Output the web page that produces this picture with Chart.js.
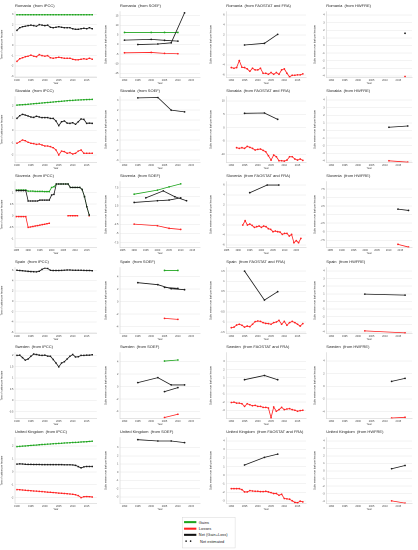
<!DOCTYPE html>
<html>
<head>
<meta charset="utf-8">
<script src="https://cdn.jsdelivr.net/npm/chart.js@4.4.0/dist/chart.umd.min.js"></script>
<style>
html,body{margin:0;padding:0;background:#fff;}
#wrap{position:relative;width:418px;height:550px;overflow:hidden;background:#fff;}
#wrap canvas{position:absolute;}
#legend{position:absolute;left:182px;top:516.5px;width:130px;height:76px;transform:scale(0.41);transform-origin:0 0;border:1.5px solid #cfcfcf;background:#fff;font-family:"Liberation Sans",Arial,sans-serif;font-size:9.6px;color:#222;box-sizing:border-box;padding-top:4px;}
.lrow{height:15.5px;display:flex;align-items:center;padding-left:4px;}
.sw{width:30px;height:5px;margin-right:6px;}
.dots{width:30px;margin-right:6px;display:flex;gap:7px;padding-left:3px;}
.dots i{display:block;width:4px;height:4px;border-radius:50%;background:#111;}
</style>
</head>
<body>
<div id="wrap">
  <div id="legend">
    <div class="lrow"><div class="sw" style="background:#1ea51e"></div>Gains</div>
    <div class="lrow"><div class="sw" style="background:#ff2020"></div>Losses</div>
    <div class="lrow"><div class="sw" style="background:#111"></div>Net (Gain+Loss)</div>
    <div class="lrow"><div class="dots"><i></i><i></i></div>Net estimated</div>
  </div>
</div>
<script>
// ---------------- DATA ----------------
const yrsIpcc = [1990,1991,1992,1993,1994,1995,1996,1997,1998,1999,2000,2001,2002,2003,2004,2005,2006,2007,2008,2009,2010,2011,2012,2013,2014,2015,2016,2017];
const yrsIpccSI = [1985,1986,1987,1988,1989,1990,1991,1992,1993,1994,1995,1996,1997,1998,1999,2000,2001,2002,2003,2004,2005,2006,2007,2008,2009,2010,2011,2012,2013,2014,2015,2016];
const yrsFao = [1990,1991,1992,1993,1994,1995,1996,1997,1998,1999,2000,2001,2002,2003,2004,2005,2006,2007,2008,2009,2010,2011,2012,2013,2014,2015,2016,2017];
const yrsFao92 = [1992,1993,1994,1995,1996,1997,1998,1999,2000,2001,2002,2003,2004,2005,2006,2007,2008,2009,2010,2011,2012,2013,2014,2015,2016,2017];
const yrsFra = [1995,2002.5,2007.5];
const yrsSoefStock = [1990,2000,2005,2010];
const yrsSoefPeriod = [1995,2002.5,2007.5,2012.5];
const yrsSoefLate = [2005,2010];
const yrsHwRO = [2017.5];
const yrsHwSK = [2011.5,2018.5];
const yrsHwSI = [2014,2018.5];
const yrsHwES = [2002.5,2017.5];
const yrsHw = [2012.5,2017.5];

const xTicks = [1990,1995,2000,2005,2010,2015];
const xTicksSI = [1985,1990,1995,2000,2005,2010,2015];

// Romania
const roIpccGain = [2.95,2.95,2.95,2.95,2.95,2.95,2.95,2.95,2.95,2.95,2.95,2.95,2.95,2.95,2.95,2.95,2.95,2.95,2.95,2.95,2.95,2.95,2.95,2.95,2.95,2.95,2.95,2.95];
const roIpccNet = [1.45,1.7,1.8,1.85,1.9,1.95,1.9,1.85,2.0,1.95,1.9,1.95,1.75,1.7,1.75,1.8,1.75,1.7,1.7,1.7,1.6,1.55,1.55,1.6,1.65,1.6,1.7,1.6];
const roIpccLoss = [-1.55,-1.3,-1.2,-1.1,-1.05,-0.95,-1.05,-1.1,-0.9,-1.0,-1.05,-1.0,-1.2,-1.25,-1.2,-1.15,-1.2,-1.25,-1.25,-1.25,-1.35,-1.4,-1.4,-1.35,-1.3,-1.35,-1.25,-1.35];
const roSoefGain = [6.3,6.3,6.3,6.3];
const roSoefNetStock = [2.3,2.7,2.2,1.8];
const roSoefNetPeriod = [0.0,0.3,0.9,16.5];
const roSoefLoss = [-4.3,-4.1,-4.6,-4.8];
const roFaoNet = [0.0,0.33,2.13];
const roFaoLoss = [-4.53,-4.67,-4.53,-3.13,-4.47,-4.53,-4.8,-5.27,-4.67,-5.0,-5.0,-4.67,-5.67,-5.67,-5.87,-5.53,-5.87,-5.53,-5.87,-5.0,-4.8,-5.67,-6.4,-6.07,-6.07,-6.0,-6.0,-5.8];
const roHwNet = [1.6];
const roHwLoss = [-4.08];

// Slovakia
const skIpccGain = [2.05,2.07,2.08,2.1,2.12,2.14,2.16,2.18,2.2,2.22,2.24,2.26,2.28,2.3,2.32,2.34,2.36,2.38,2.4,2.42,2.43,2.45,2.46,2.47,2.48,2.49,2.5,2.51];
const skIpccNet = [0.97,1.19,1.3,1.24,1.16,1.08,1.05,1.14,1.08,1.03,1.03,1.03,0.97,0.97,0.76,0.38,0.7,0.76,0.59,0.57,0.62,0.49,0.7,0.92,0.89,0.57,0.59,0.57];
const skIpccLoss = [-1.05,-0.92,-0.78,-0.84,-0.97,-1.05,-1.08,-1.14,-1.11,-1.19,-1.27,-1.27,-1.32,-1.41,-1.59,-2.0,-1.68,-1.73,-1.86,-1.81,-1.92,-1.86,-1.68,-1.59,-1.86,-1.86,-1.86,-1.86];
const skSoefNetPeriod = [3.23,3.27,2.0,1.83];
const skFaoNet = [5.375,5.5,3.125];
const skFaoLoss = [-7.5,-7.75,-7.5,-7.75,-7.0,-7.375,-7.75,-8.375,-8.125,-8.0,-8.5,-9.0,-10.5,-12.125,-10.25,-10.875,-12.375,-12.375,-12.5,-12.125,-10.875,-10.875,-11.75,-12.125,-11.75,-12.25];
const skHwNet = [0.42,0.59];
const skHwLoss = [-3.99,-4.17];

// Slovenia
const siIpccGain = [1.12,1.12,1.12,1.12,1.12,1.07,1.07,1.07,1.06,1.06,1.06,1.06,1.05,1.05,1.05,1.23,1.26,1.38,1.38,1.38,1.38,1.38,1.38,1.23,1.23,1.23,1.23,1.23,1.14,0.83,0.39,0.03];
const siIpccNet = [1.09,1.09,1.09,1.09,1.09,0.64,0.64,0.64,0.64,0.64,0.68,0.68,0.68,0.68,0.68,0.9,0.93,1.38,1.38,1.38,1.38,1.38,1.38,1.23,1.23,1.23,1.23,1.23,1.14,0.83,0.39,0.03];
const siIpccLoss = [-0.04,-0.04,-0.04,-0.04,-0.04,-0.51,-0.49,-0.47,-0.45,-0.43,-0.41,-0.39,-0.37,-0.35,-0.33,null,null,null,null,null,null,null,0,0,0,0,0,null,null,null,null,0];
const siSoefGain = [5.7,6.8,7.7,8.5];
const siSoefNetStock = [3.45,3.9,4.1,4.7];
const siSoefNetPeriod = [4.7,6.6,5.0,3.9];
const siSoefLoss = [-2.45,-2.9,-3.6,-3.9];
const siFaoNet = [4.47,6.0,6.0];
const siFaoLoss = [-2.0,-1.13,-2.0,-1.8,-2.07,-2.47,-2.33,-2.2,-2.47,-2.2,-2.33,-2.73,-2.87,-3.33,-3.2,-3.33,-3.4,-3.87,-3.67,-3.67,-4.2,-3.87,-5.53,-5.13,-5.53,-4.67];
const siHwNet = [1.65,1.26];
const siHwLoss = [-8.7,-9.5];

// Spain
const esIpccNet = [6.0,5.95,5.9,5.85,5.8,5.75,5.72,5.69,5.82,6.18,6.43,6.37,6.0,5.95,5.95,5.95,5.98,6.02,6.05,6.05,6.02,6.0,6.0,6.0,5.98,5.95,5.95,5.92];
const esSoefGain = [5.0,5.0];
const esSoefLoss = [-2.67,-2.83];
const esSoefNetPeriod = [3.04,2.72,2.08,1.92];
const esSoefNetStock = [2.29,2.13];
const esFaoNet = [1.5,0.08,0.49];
const esFaoLoss = [-1.28,-1.25,-1.15,-1.11,-1.16,-1.25,-1.2,-1.23,-1.11,-0.98,-0.95,-0.97,-1.03,-1.07,-1.08,-1.11,-1.03,-1.0,-0.92,-1.11,-0.97,-1.16,-1.03,-0.97,-1.03,-1.11,-1.2,-1.08];
const esHwNet = [0.96,0.83];
const esHwLoss = [-3.87,-4.13];

// Sweden
const seIpccNet = [2.0,2.01,1.9,1.79,1.84,1.96,2.06,2.04,2.01,2.0,2.01,1.97,1.96,1.82,1.66,1.49,1.66,1.72,1.84,1.96,2.04,1.93,1.94,2.0,2.0,2.01,2.01,2.03];
const seSoefGain = [4.1,4.27];
const seSoefLoss = [-4.96,-4.43];
const seSoefNetPeriod = [0.64,1.44,0.27,0.27];
const seSoefNetStock = [-0.8,-0.16];
const seFaoNet = [0.76,1.28,0.76];
const seFaoLoss = [-2.04,-2.0,-2.12,-2.12,-2.2,-2.52,-2.2,-2.32,-2.44,-2.4,-2.52,-2.52,-2.64,-2.64,-2.72,-3.92,-2.6,-3.12,-2.92,-2.64,-2.92,-2.84,-2.8,-2.92,-3.0,-3.12,-3.04,-3.0];
const seHwNet = [0.78,1.25];
const seHwLoss = [-4.99,-4.88];

// United Kingdom
const ukIpccGain = [1.95,1.97,1.99,2.0,2.02,2.04,2.06,2.07,2.09,2.11,2.12,2.14,2.15,2.17,2.18,2.2,2.21,2.23,2.24,2.25,2.27,2.28,2.29,2.31,2.32,2.33,2.35,2.37];
const ukIpccNet = [0.59,0.61,0.6,0.58,0.57,0.57,0.56,0.56,0.56,0.55,0.55,0.55,0.55,0.55,0.55,0.55,0.55,0.54,0.54,0.54,0.53,0.5,0.4,0.3,0.38,0.41,0.41,0.41];
const ukIpccLoss = [-1.38,-1.39,-1.41,-1.43,-1.45,-1.47,-1.49,-1.5,-1.52,-1.54,-1.56,-1.58,-1.59,-1.61,-1.63,-1.65,-1.66,-1.68,-1.7,-1.72,-1.74,-1.78,-1.85,-2.0,-1.93,-1.92,-1.93,-1.95];
const ukSoefNetPeriod = [3.96,3.8,3.8,3.6];
const ukFaoNet = [1.19,2.08,2.46];
const ukFaoLoss = [-1.58,-1.58,-1.58,-1.58,-1.69,-1.96,-1.96,-1.81,-1.85,-1.88,-1.88,-1.92,-1.92,-1.88,-1.96,-2.04,-2.15,-2.15,-2.35,-2.23,-2.73,-2.77,-2.81,-3.0,-3.19,-3.23,-3.04,-3.12];
const ukHwNet = [0.3,0.74];
const ukHwLoss = [-3.96,-4.26];

// y tick labels
const ytRoIpcc = [3,2,1,0,-1,-2,-3];
const ytRoSoef = [15,10,5,0,-5,-10,-15];
const ytRoFao = [6,4,2,0,-2,-4,-6];
const ytHw4 = [4,3,2,1,0,-1,-2,-3,-4];
const ytSkIpcc = [2,1,0,-1,-2];
const ytSkSoef = [3,2,1,0,-1,-2,-3];
const ytSkFao = [10,5,0,-5,-10];
const ytSiIpcc = [1,0.5,0,-0.5,-1];
const ytSiSoef = [7.5,5,2.5,0,-2.5,-5,-7.5];
const ytSiFao = [6,4,2,0,-2,-4,-6];
const ytSiHw = [7.5,5,2.5,0,-2.5,-5,-7.5];
const ytEsIpcc = [6,4,2,0,-2,-4,-6];
const ytEsSoef = [4,2,0,-2,-4];
const ytEsFao = [1.5,1,0.5,0,-0.5,-1,-1.5];
const ytSeIpcc = [2,1.5,1,0.5,0,-0.5];
const ytSeSoef = [4,2,0,-2,-4];
const ytSeFao = [3,2,1,0,-1,-2,-3];
const ytSeHw = [4,2,0,-2,-4];
const ytUkIpcc = [2,1,0,-1,-2];
const ytUkSoef = [3,2,1,0,-1,-2,-3];
const ytUkFao = [4,3,2,1,0,-1,-2,-3];

// ---------------- DRAWING ----------------
const G = '#1ea51e', R = '#ff2020', K = '#1a1a1a';
const FONT = '"Liberation Sans", Arial, sans-serif';
const COLS = [
  {left:0,   w:104, yw:15,   rp:7.3, xmin:1989.3, xmax:2018.6, ytitle:'Tons of carbon per hectare'},
  {left:104, w:105, yw:16,   rp:9,   xmin:1988.3, xmax:2018.3, ytitle:'Cubic meters over bark per hectare'},
  {left:209, w:104, yw:17.3, rp:7,   xmin:1988.1, xmax:2018.2, ytitle:'Cubic meters over bark per hectare'},
  {left:313, w:105, yw:13.3, rp:6,   xmin:1988.1, xmax:2020.1, ytitle:'Cubic meters over bark per hectare'}
];
const ROWTOP = r => Math.round(r * 85.2);

function ser(xs, ys, color, square) { return {xs, ys, color, square: !!square}; }

const PANELS = [
  {r:0,c:0,t:'Romania  (from IPCC)', yt:ytRoIpcc, ymin:-3.1, ymax:3.25, s:[ser(yrsIpcc,roIpccNet,K,1),ser(yrsIpcc,roIpccGain,G,1),ser(yrsIpcc,roIpccLoss,R,1)]},
  {r:0,c:1,t:'Romania  (from SOEF)', yt:ytRoSoef, ymin:-17.1, ymax:17.1, s:[ser(yrsSoefPeriod,roSoefNetPeriod,K),ser(yrsSoefStock,roSoefNetStock,K),ser(yrsSoefStock,roSoefGain,G),ser(yrsSoefStock,roSoefLoss,R)]},
  {r:0,c:2,t:'Romania  (from FAOSTAT and FRA)', yt:ytRoFao, ymin:-6.5, ymax:6.67, s:[ser(yrsFra,roFaoNet,K),ser(yrsFao,roFaoLoss,R)]},
  {r:0,c:3,t:'Romania  (from HWFRE)', yt:ytHw4, ymin:-4.2, ymax:4.44, s:[ser(yrsHwRO,roHwNet,K),ser(yrsHwRO,roHwLoss,R)]},

  {r:1,c:0,t:'Slovakia  (from IPCC)', yt:ytSkIpcc, ymin:-2.6, ymax:2.73, s:[ser(yrsIpcc,skIpccNet,K,1),ser(yrsIpcc,skIpccGain,G,1),ser(yrsIpcc,skIpccLoss,R,1)]},
  {r:1,c:1,t:'Slovakia  (from SOEF)', yt:ytSkSoef, ymin:-3.23, ymax:3.35, s:[ser(yrsSoefPeriod,skSoefNetPeriod,K)]},
  {r:1,c:2,t:'Slovakia  (from FAOSTAT and FRA)', yt:ytSkFao, ymin:-13, ymax:11.6, s:[ser(yrsFra,skFaoNet,K),ser(yrsFao92,skFaoLoss,R)]},
  {r:1,c:3,t:'Slovakia  (from HWFRE)', yt:ytHw4, ymin:-4.2, ymax:4.44, s:[ser(yrsHwSK,skHwNet,K),ser(yrsHwSK,skHwLoss,R)]},

  {r:2,c:0,t:'Slovenia  (from IPCC)', yt:ytSiIpcc, ymin:-1.38, ymax:1.48, xmin:1984.4, xmax:2019.2, xt:xTicksSI, s:[ser(yrsIpccSI,siIpccNet,K,1),ser(yrsIpccSI,siIpccGain,G,1),ser(yrsIpccSI,siIpccLoss,R,1)]},
  {r:2,c:1,t:'Slovenia  (from SOEF)', yt:ytSiSoef, ymin:-8.8, ymax:9.1, xmin:1983.9, xmax:2018.3, xt:xTicksSI, s:[ser(yrsSoefPeriod,siSoefNetPeriod,K),ser(yrsSoefStock,siSoefNetStock,K),ser(yrsSoefStock,siSoefGain,G),ser(yrsSoefStock,siSoefLoss,R)]},
  {r:2,c:2,t:'Slovenia  (from FAOSTAT and FRA)', yt:ytSiFao, ymin:-6.47, ymax:6.67, xmin:1984.9, xmax:2019.2, xt:xTicksSI, s:[ser(yrsFra,siFaoNet,K),ser(yrsFao92,siFaoLoss,R)]},
  {r:2,c:3,t:'Slovenia  (from HWFRE)', yt:ytSiHw, ymin:-9.6, ymax:9.7, xmin:1983.3, xmax:2020, xt:xTicksSI, s:[ser(yrsHwSI,siHwNet,K),ser(yrsHwSI,siHwLoss,R)]},

  {r:3,c:0,t:'Spain  (from IPCC)', yt:ytEsIpcc, ymin:-6.2, ymax:6.5, s:[ser(yrsIpcc,esIpccNet,K,1)]},
  {r:3,c:1,t:'Spain  (from SOEF)', yt:ytEsSoef, ymin:-5.07, ymax:5.44, s:[ser(yrsSoefPeriod,esSoefNetPeriod,K),ser(yrsSoefLate,esSoefNetStock,K),ser(yrsSoefLate,esSoefGain,G),ser(yrsSoefLate,esSoefLoss,R)]},
  {r:3,c:2,t:'Spain  (from FAOSTAT and FRA)', yt:ytEsFao, ymin:-1.56, ymax:1.67, s:[ser(yrsFra,esFaoNet,K),ser(yrsFao,esFaoLoss,R)]},
  {r:3,c:3,t:'Spain  (from HWFRE)', yt:ytHw4, ymin:-4.2, ymax:4.43, s:[ser(yrsHwES,esHwNet,K),ser(yrsHwES,esHwLoss,R)]},

  {r:4,c:0,t:'Sweden  (from IPCC)', yt:ytSeIpcc, ymin:-0.8, ymax:2.12, s:[ser(yrsIpcc,seIpccNet,K,1)]},
  {r:4,c:1,t:'Sweden  (from SOEF)', yt:ytSeSoef, ymin:-5.1, ymax:5.44, s:[ser(yrsSoefPeriod,seSoefNetPeriod,K),ser(yrsSoefLate,seSoefNetStock,K),ser(yrsSoefLate,seSoefGain,G),ser(yrsSoefLate,seSoefLoss,R)]},
  {r:4,c:2,t:'Sweden  (from FAOSTAT and FRA)', yt:ytSeFao, ymin:-4.0, ymax:4.08, s:[ser(yrsFra,seFaoNet,K),ser(yrsFao,seFaoLoss,R)]},
  {r:4,c:3,t:'Sweden  (from HWFRE)', yt:ytSeHw, ymin:-5.05, ymax:5.3, s:[ser(yrsHw,seHwNet,K),ser(yrsHw,seHwLoss,R)]},

  {r:5,c:0,t:'United Kingdom  (from IPCC)', yt:ytUkIpcc, ymin:-2.45, ymax:2.64, s:[ser(yrsIpcc,ukIpccNet,K,1),ser(yrsIpcc,ukIpccGain,G,1),ser(yrsIpcc,ukIpccLoss,R,1)]},
  {r:5,c:1,t:'United Kingdom  (from SOEF)', yt:ytUkSoef, ymin:-3.8, ymax:4.2, s:[ser(yrsSoefPeriod,ukSoefNetPeriod,K)]},
  {r:5,c:2,t:'United Kingdom  (from FAOSTAT and FRA)', yt:ytUkFao, ymin:-3.3, ymax:4.38, s:[ser(yrsFra,ukFaoNet,K),ser(yrsFao,ukFaoLoss,R)]},
  {r:5,c:3,t:'United Kingdom  (from HWFRE)', yt:ytHw4, ymin:-4.3, ymax:4.43, s:[ser(yrsHw,ukHwNet,K),ser(yrsHw,ukHwLoss,R)]}
];

const wrap = document.getElementById('wrap');

PANELS.forEach(p => {
  const col = COLS[p.c];
  const cv = document.createElement('canvas');
  const H = 85;
  cv.width = col.w; cv.height = H;
  cv.style.left = col.left + 'px';
  cv.style.top = ROWTOP(p.r) + 'px';
  cv.style.width = col.w + 'px';
  cv.style.height = H + 'px';
  wrap.appendChild(cv);
  const xt = p.xt || xTicks;
  const datasets = p.s.map(s => ({
    data: s.xs.map((x, i) => ({x: x, y: s.ys[i]})),
    borderColor: s.color,
    backgroundColor: s.color,
    borderWidth: 0.8,
    pointRadius: s.square ? 1.05 : 0.9,
    pointStyle: s.square ? 'rect' : 'circle',
    pointBorderWidth: 0,
    pointHoverRadius: 0,
    tension: 0,
    spanGaps: false,
    fill: false
  }));
  new Chart(cv, {
    type: 'line',
    data: {datasets},
    options: {
      responsive: false,
      animation: false,
      devicePixelRatio: 2,
      events: [],
      layout: {padding: {left: 0, right: col.rp, top: 0, bottom: 0}},
      plugins: {
        legend: {display: false},
        tooltip: {enabled: false},
        title: {
          display: true, text: p.t, align: 'start', fullSize: false,
          color: '#222', font: {family: FONT, size: 4, weight: 'normal'},
          padding: {top: 3.6, bottom: 3.3}
        }
      },
      scales: {
        x: {
          type: 'linear',
          min: p.xmin !== undefined ? p.xmin : col.xmin,
          max: p.xmax !== undefined ? p.xmax : col.xmax,
          afterBuildTicks: ax => { ax.ticks = xt.map(v => ({value: v})); },
          afterFit: ax => { ax.height = 7.6; },
          grid: {display: false, drawTicks: false},
          border: {display: true, color: '#c8c8c8', width: 0.5},
          ticks: {autoSkip: false, maxRotation: 0, minRotation: 0, padding: 1.2, color: '#444',
                  font: {family: FONT, size: 2.5}, callback: v => String(v)},
          title: {display: true, text: 'Year', color: '#333', font: {family: FONT, size: 2.5}, padding: {top: 0, bottom: 0.3}}
        },
        y: {
          type: 'linear',
          min: p.ymin, max: p.ymax,
          afterBuildTicks: ax => { ax.ticks = p.yt.map(v => ({value: v})); },
          afterFit: ax => { ax.width = col.yw; },
          grid: {color: '#e6e6e6', lineWidth: 0.5, drawTicks: false},
          border: {display: true, color: '#c8c8c8', width: 0.5},
          ticks: {autoSkip: false, padding: 1.6, color: '#444',
                  font: {family: FONT, size: 2.5}, callback: v => String(v)},
          title: {display: true, text: col.ytitle, color: '#333', font: {family: FONT, size: 2.5}, padding: {top: 0.4, bottom: 0.5}}
        }
      }
    }
  });
});
</script>
</body>
</html>
